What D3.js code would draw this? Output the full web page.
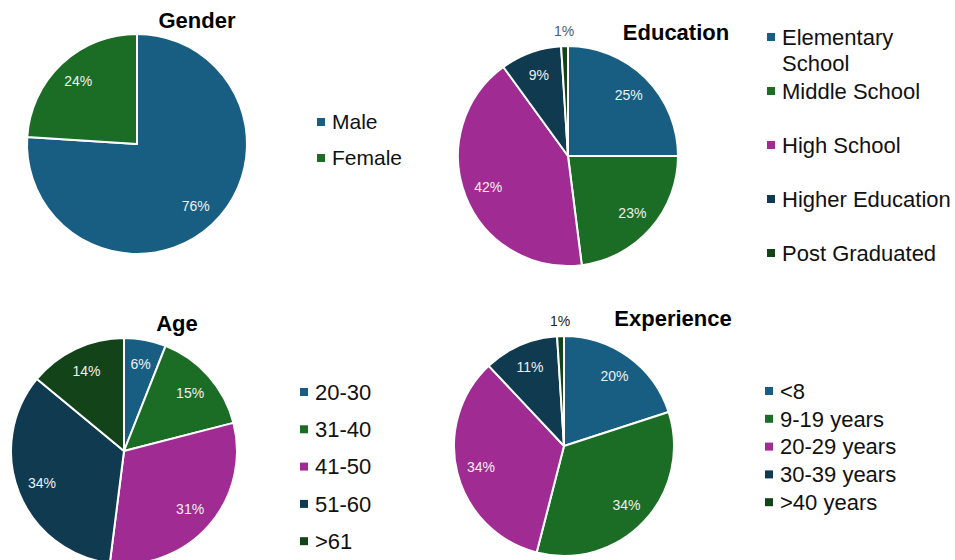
<!DOCTYPE html>
<html>
<head>
<meta charset="utf-8">
<script src="https://cdn.jsdelivr.net/npm/d3@7"></script>
<style>
  body { margin: 0; background: #fff; }
  svg { font-family: "Liberation Sans", Arial, sans-serif; }
</style>
</head>
<body>
<div class="demo"></div>
<script>
(function() {
    var width = 955,
        height = 560;

    // data
    var genderCats = ["Male", "Female"];
    var genderVals = [76, 24];

    var eduCats = ["Elementary School", "Middle School", "High School", "Higher Education", "Post Graduated"];
    var eduVals = [25, 23, 42, 9, 1];

    var ageCats = ["20-30", "31-40", "41-50", "51-60", ">61"];
    var ageVals = [6, 15, 31, 34, 14];

    var expCats = ["<8", "9-19 years", "20-29 years", "30-39 years", ">40 years"];
    var expVals = [20, 34, 34, 11, 1];

    var colors = ["#175e82", "#1b6d26", "#a02b93", "#0f3a50", "#124319"];

    var svg = d3.select(".demo").append("svg")
        .attr("width", width)
        .attr("height", height);

    // layout for each small pie
    var charts = [
        { title: "Gender", cats: genderCats, vals: genderVals,
          cx: 137, cy: 144, r: 110, tx: 197, ty: 28,
          lx: 321, ly: 122, lstep: 36, lsize: 21, outColor: "#333" },
        { title: "Education", cats: eduCats, vals: eduVals,
          cx: 568, cy: 156, r: 110, tx: 676, ty: 40,
          lx: 771, ly: 37, lstep: 54, lsize: 22, outColor: "#44607a",
          wrap: { "Elementary School": ["Elementary", "School"] } },
        { title: "Age", cats: ageCats, vals: ageVals,
          cx: 124, cy: 451, r: 113, tx: 177, ty: 331,
          lx: 304, ly: 392, lstep: 37.3, lsize: 22, outColor: "#333" },
        { title: "Experience", cats: expCats, vals: expVals,
          cx: 564, cy: 446, r: 110, tx: 673, ty: 326,
          lx: 769, ly: 391, lstep: 27.8, lsize: 22, outColor: "#222" }
    ];

    var pie = d3.pie().sort(null).value(function(d) { return d.v; });

    charts.forEach(function(c) {
        var data = c.cats.map(function(k, i) { return { k: k, v: c.vals[i], i: i }; });
        var arcs = pie(data);
        var arc = d3.arc().innerRadius(0).outerRadius(c.r);
        var labelArc = d3.arc().innerRadius(c.r * 0.78).outerRadius(c.r * 0.78);
        var outArc = d3.arc().innerRadius(c.r * 1.14).outerRadius(c.r * 1.14);

        var g = svg.append("g")
            .attr("transform", "translate(" + c.cx + "," + c.cy + ")");

        g.selectAll("path")
            .data(arcs)
            .enter().append("path")
            .attr("d", arc)
            .attr("fill", function(d) { return colors[d.data.i]; })
            .attr("stroke", "#fff")
            .attr("stroke-width", 2)
            .attr("stroke-linejoin", "round");

        g.selectAll("text.lbl")
            .data(arcs)
            .enter().append("text")
            .attr("class", "lbl")
            .attr("transform", function(d) {
                var p = d.data.v <= 1 ? outArc.centroid(d) : labelArc.centroid(d);
                return "translate(" + p + ")";
            })
            .attr("text-anchor", "middle")
            .attr("dy", ".35em")
            .style("font-size", "14px")
            .style("fill", function(d) { return d.data.v <= 1 ? c.outColor : "#f0f0f0"; })
            .text(function(d) { return d.data.v + "%"; });

        // title
        svg.append("text")
            .attr("x", c.tx)
            .attr("y", c.ty)
            .attr("text-anchor", "middle")
            .style("font-size", "22px")
            .style("font-weight", "bold")
            .style("fill", "#000")
            .text(c.title);

        // legend
        var leg = svg.append("g")
            .attr("transform", "translate(" + c.lx + "," + c.ly + ")");

        var item = leg.selectAll("g")
            .data(data)
            .enter().append("g")
            .attr("transform", function(d, i) { return "translate(0," + (i * c.lstep) + ")"; });

        item.append("rect")
            .attr("x", -4)
            .attr("y", -4)
            .attr("width", 8)
            .attr("height", 8)
            .attr("fill", function(d) { return colors[d.i]; });

        item.append("text")
            .style("font-size", c.lsize + "px")
            .style("fill", "#111")
            .each(function(d) {
                var lines = (c.wrap && c.wrap[d.k]) || [d.k];
                var t = d3.select(this);
                lines.forEach(function(s, j) {
                    t.append("tspan")
                        .attr("x", 11)
                        .attr("dy", j === 0 ? ".35em" : "1.2em")
                        .text(s);
                });
            });
    });
})();
</script>
</body>
</html>
